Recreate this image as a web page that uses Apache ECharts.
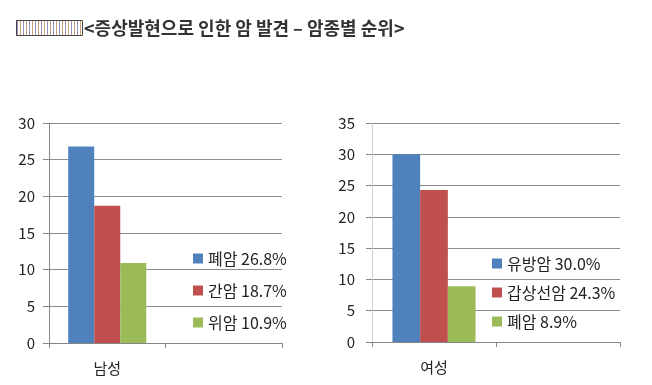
<!DOCTYPE html>
<html><head><meta charset="utf-8">
<script src="https://cdn.jsdelivr.net/npm/echarts@6/dist/echarts.min.js"></script>
<style>html,body{margin:0;padding:0;background:#fff}#c{width:652px;height:385px}</style>
</head><body><div id="c"></div>
<script>
const titleText = '<증상발현으로 인한 암 발견 – 암종별 순위>';
const maleCategories = ['남성', ''];
const femaleCategories = ['여성', ''];
const maleCancers = ['폐암', '간암', '위암'];
const maleValues = [26.8, 18.7, 10.9];
const femaleCancers = ['유방암', '갑상선암', '폐암'];
const femaleValues = [30.0, 24.3, 8.9];
const maleYMax = 30, femaleYMax = 35, yInterval = 5;
const colors = ['#4F81BD', '#C0504D', '#9BBB59'];
const FONT = "'Noto Sans CJK KR', 'Noto Sans', sans-serif";

const maleNames = maleCancers.map((c, i) => c + ' ' + maleValues[i].toFixed(1) + '%');
const femaleNames = femaleCancers.map((c, i) => c + ' ' + femaleValues[i].toFixed(1) + '%');

const chart = echarts.init(document.getElementById('c'), null, {renderer: 'canvas'});

function xAxis(idx, cats) {
  return {
    type: 'category', gridIndex: idx, data: cats,
    axisLine: {show: true, lineStyle: {color: '#868686', width: 1}},
    axisTick: {show: true, alignWithLabel: false, length: 5, lineStyle: {color: '#868686'}},
    axisLabel: {color: '#222', fontSize: 15, fontFamily: FONT, margin: 18}
  };
}
function yAxis(idx, max, axisColor, margin) {
  return {
    type: 'value', gridIndex: idx, min: 0, max: max, interval: yInterval,
    axisLine: {show: true, lineStyle: {color: axisColor, width: 1}},
    axisTick: {show: true, length: 6, lineStyle: {color: '#868686'}},
    splitLine: {show: true, lineStyle: {color: '#8c8c8c', width: 1}},
    axisLabel: {color: '#222', fontSize: 15, fontFamily: FONT, margin: margin}
  };
}

const series = [];
maleNames.forEach((n, i) => series.push({
  name: n, type: 'bar', xAxisIndex: 0, yAxisIndex: 0,
  data: [maleValues[i], '-'], barGap: '0%', barCategoryGap: '33%',
  itemStyle: {color: colors[i]}
}));
femaleNames.forEach((n, i) => series.push({
  name: n, type: 'bar', xAxisIndex: 1, yAxisIndex: 1,
  data: [femaleValues[i], '-'], barGap: '0%', barCategoryGap: '33%',
  itemStyle: {color: colors[i]}
}));

const stripes = [];
for (let x = 17; x < 82; x += 3) {
  stripes.push({type: 'line', shape: {x1: x + 0.5, y1: 21, x2: x + 0.5, y2: 35},
    style: {stroke: (x % 2) ? '#9a8fb8' : '#c9a27a', lineWidth: 1}, silent: true});
}

chart.setOption({
  animation: false,
  backgroundColor: '#fff',
  textStyle: {fontFamily: FONT},
  title: {text: titleText, left: 84, top: 19, padding: 0,
    textStyle: {fontSize: 18, fontWeight: 'bold', color: '#333', fontFamily: FONT}},
  graphic: [
    {type: 'rect', shape: {x: 16.5, y: 20.5, width: 66, height: 15}, style: {fill: '#fff', stroke: '#444', lineWidth: 1}, silent: true},
    ...stripes
  ],
  grid: [
    {left: 49, right: 370, top: 123, bottom: 42},
    {left: 372, right: 32, top: 123, bottom: 43}
  ],
  xAxis: [xAxis(0, maleCategories), xAxis(1, femaleCategories)],
  yAxis: [yAxis(0, maleYMax, '#868686', 14), yAxis(1, femaleYMax, '#d0d0d0', 17)],
  legend: [
    {data: maleNames, orient: 'vertical', left: 193, top: 250, padding: 0,
     itemWidth: 10, itemHeight: 10, itemGap: 15, icon: 'rect',
     textStyle: {fontSize: 16, color: '#222', lineHeight: 17, fontFamily: FONT}},
    {data: femaleNames, orient: 'vertical', left: 492, top: 255, padding: 0,
     itemWidth: 10, itemHeight: 10, itemGap: 12, icon: 'rect',
     textStyle: {fontSize: 16, color: '#222', lineHeight: 17, fontFamily: FONT}}
  ],
  series: series
});
</script></body></html>
